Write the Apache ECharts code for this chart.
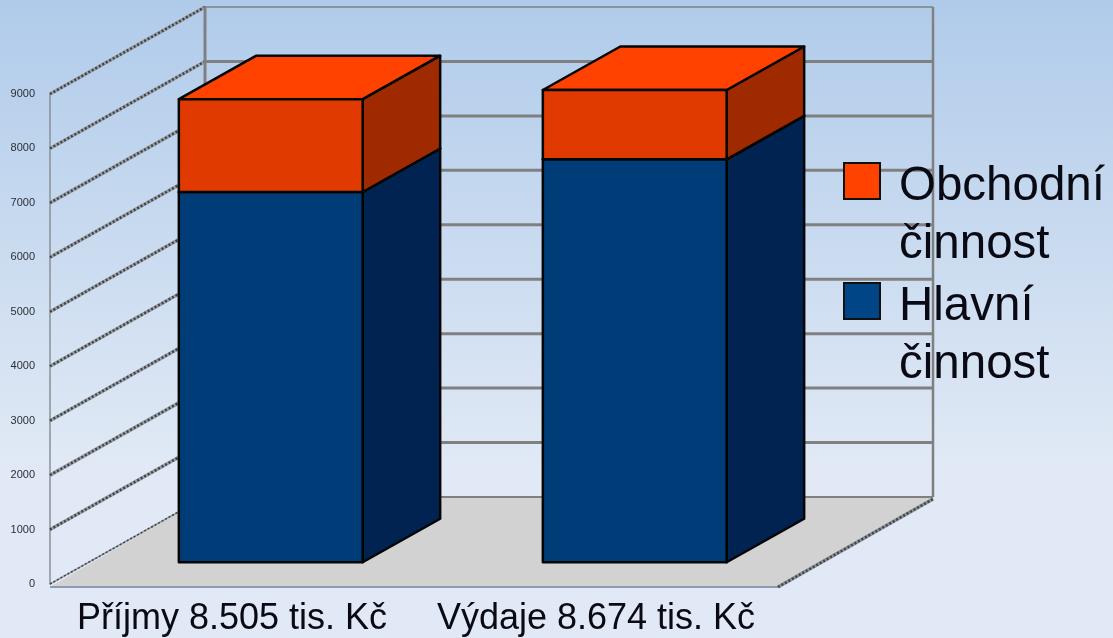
<!DOCTYPE html>
<html>
<head>
<meta charset="utf-8">
<style>html,body{margin:0;padding:0;background:#e0e9f5}#c{width:1113px;height:638px}</style>
<script src="https://cdn.jsdelivr.net/npm/echarts@6/dist/echarts.min.js"></script>
</head>
<body>
<div id="c"></div>
<script>
const categories = ['Příjmy 8.505 tis. Kč', 'Výdaje 8.674 tis. Kč'];
const hlavni = [6800, 7400];
const obchodni = [1705, 1274];
const yTicks = [0, 1000, 2000, 3000, 4000, 5000, 6000, 7000, 8000, 9000];
const nameHlavni = 'Hlavní činnost';
const nameObchodni = 'Obchodní činnost';

const DX = 155, DY = -87;           // full depth of the 3D box in pixels
const FONT = '"Liberation Sans", Arial, sans-serif';

function plotEdges(api) {
  const size = api.size([1, 0])[0];
  const c0 = api.coord([0, 0]);
  const left = c0[0] - size / 2;
  return { left, right: left + size * 2, zero: c0[1] };
}
function ln(x1, y1, x2, y2, stroke, lineWidth, lineDash) {
  return { type: 'line', silent: true, shape: { x1, y1, x2, y2 },
    style: { stroke, lineWidth, lineDash: lineDash || null, fill: null } };
}
function poly(points, fill, stroke, lineWidth) {
  return { type: 'polygon', silent: true, shape: { points },
    style: { fill, stroke: stroke || null, lineWidth: lineWidth || 0, lineJoin: 'round' } };
}
function renderFloor(params, api) {
  const e = plotEdges(api);
  const z = e.zero;
  return { type: 'group', children: [
    poly([[e.left, z + 3], [e.right, z + 3], [e.right + DX, z + DY + 1], [e.left + DX, z + DY]], '#d2d2d2'),
    ln(e.left, z + 3, e.right, z + 3, '#8c9bb2', 2),
    ln(e.right, z + 3, e.right + DX, z + DY + 2, '#8d9298', 3.5),
    ln(e.right, z + 3, e.right + DX, z + DY + 2, '#3f4449', 2.5, [2, 2])
  ]};
}
function renderWall(params, api) {
  const e = plotEdges(api);
  const y = api.coord([0, api.value(1)])[1];
  const isZero = api.value(1) === 0;
  const isTop = api.value(1) === yTicks[yTicks.length - 1];
  const children = [
    ln(e.left, y, e.left + DX, y + DY, '#9aa0a6', isZero ? 1.5 : 3.5),
    ln(e.left, y, e.left + DX, y + DY, '#3f4347', isZero ? 1.5 : 2.5, [2, 2]),
    ln(e.left + DX, y + DY, e.right + DX, y + DY, '#808080', isTop ? 1.5 : (isZero ? 2 : 3))
  ];
  if (isTop) {
    children.push(ln(e.left + DX, y + DY, e.left + DX, e.zero + DY, '#808080', 3));
    children.push(ln(e.right + DX, y + DY, e.right + DX, e.zero + DY, '#808080', 2.5));
  }
  return { type: 'group', children };
}
function barRenderer(baseOf, topOf, colors) {
  return function (params, api) {
    const i = api.value(0);
    const c = api.coord([i, 0]);
    const band = api.size([1, 0])[0];
    const w = band * 0.505;
    const x0 = c[0] + DX * 0.25 - w / 2;
    const x1 = x0 + w;
    const shiftY = DY * 0.25;
    const yb = api.coord([i, baseOf(i)])[1] + shiftY;
    const yt = api.coord([i, topOf(i)])[1] + shiftY;
    const ox = DX * 0.5, oy = DY * 0.5;
    const s = '#050505', lw = 2.5;
    return { type: 'group', children: [
      poly([[x1, yb], [x1 + ox, yb + oy], [x1 + ox, yt + oy], [x1, yt]], colors.side, s, lw),
      poly([[x0, yt], [x1, yt], [x1 + ox, yt + oy], [x0 + ox, yt + oy]], colors.top, s, lw),
      poly([[x0, yb], [x1, yb], [x1, yt], [x0, yt]], colors.front, s, lw)
    ]};
  };
}
const legendBase = {
  orient: 'vertical', icon: 'rect', itemWidth: 36, itemHeight: 36, itemGap: 0, padding: 0,
  selectedMode: false,
  formatter: n => '{b| }\n' + n.split(' ').map(p => '{a|' + p + '}').join('\n'),
  textStyle: { fontFamily: FONT, fontSize: 47.5, lineHeight: 58, color: '#0a0a14',
    rich: {
      a: { fontFamily: FONT, fontSize: 47.5, lineHeight: 58, color: '#0a0a14', padding: [0, 0, 0, 14] },
      b: { fontFamily: FONT, fontSize: 47.5, lineHeight: 70 }
    } }
};
const chart = echarts.init(document.getElementById('c'), null, { renderer: 'canvas' });
chart.setOption({
  animation: false,
  backgroundColor: {
    type: 'linear', x: 0, y: 0, x2: 0, y2: 1,
    colorStops: [{ offset: 0, color: '#b0cbea' }, { offset: 0.72, color: '#e0e9f5' }, { offset: 1, color: '#e0e9f5' }]
  },
  grid: { left: 50, right: 335, top: 94, bottom: 54 },
  xAxis: {
    type: 'category', data: categories, boundaryGap: true,
    axisLine: { show: false }, axisTick: { show: false },
    axisLabel: { fontFamily: FONT, fontSize: 36, color: '#0a0a14', margin: 17, interval: 0 }
  },
  yAxis: {
    type: 'value', min: 0, max: 9000, interval: 1000,
    splitLine: { show: false }, axisTick: { show: false },
    axisLine: { show: true, lineStyle: { color: '#8a8f96', width: 1.5 } },
    axisLabel: { fontFamily: FONT, fontSize: 11, color: '#2a2f36', margin: 15, padding: [6, 0, 0, 0],
                 formatter: v => String(v) }
  },
  legend: [
    Object.assign({}, legendBase, { data: [nameObchodni], left: 843, top: 88 }),
    Object.assign({}, legendBase, { data: [nameHlavni], left: 843, top: 208 })
  ],
  series: [
    { type: 'custom', name: 'floor', silent: true, clip: false, z: 1, renderItem: renderFloor, data: [[0, 0]] },
    { type: 'custom', name: 'walls', silent: true, clip: false, z: 2, renderItem: renderWall,
      data: yTicks.map(v => [0, v]) },
    { type: 'custom', name: nameHlavni, silent: true, clip: false, z: 3,
      itemStyle: { color: '#004586', borderColor: '#111', borderWidth: 1.5 },
      renderItem: barRenderer(() => 0, i => hlavni[i], { front: '#003d78', side: '#002352', top: '#003d78' }),
      data: hlavni.map((v, i) => [i, v]) },
    { type: 'custom', name: nameObchodni, silent: true, clip: false, z: 4,
      itemStyle: { color: '#ff4200', borderColor: '#111', borderWidth: 1.5 },
      renderItem: barRenderer(i => hlavni[i], i => hlavni[i] + obchodni[i], { front: '#e03a00', side: '#a02a00', top: '#ff4200' }),
      data: obchodni.map((v, i) => [i, hlavni[i] + v]) }
  ]
});
</script>
</body>
</html>
